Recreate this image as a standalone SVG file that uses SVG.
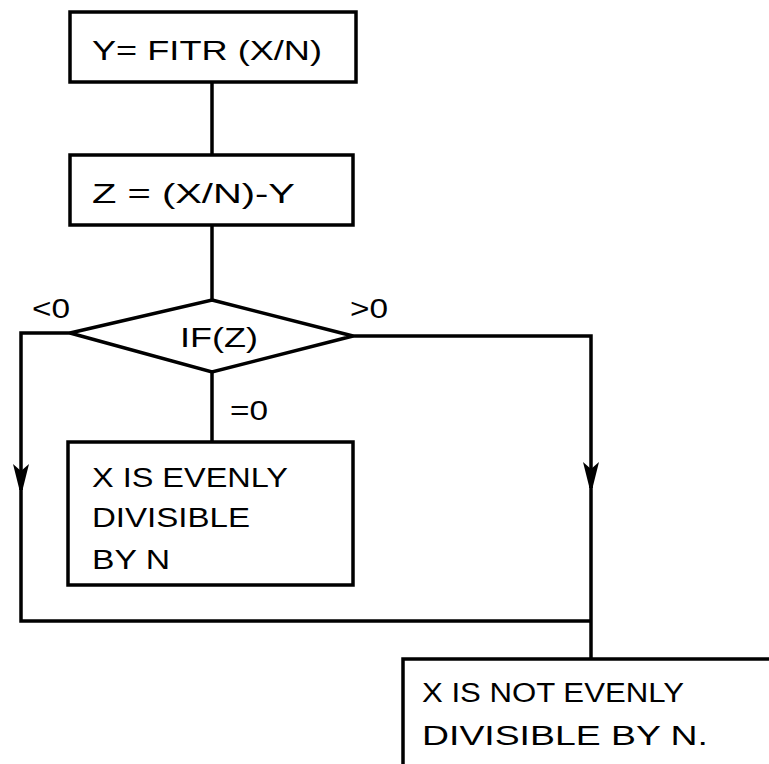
<svg xmlns="http://www.w3.org/2000/svg" width="769" height="764" viewBox="0 0 769 764">
<defs>
<style>
.box{fill:#fff;stroke:#000;stroke-width:3.5}
.ln{fill:none;stroke:#000;stroke-width:3.5}
.t{font-family:"Liberation Sans","DejaVu Sans",sans-serif;font-size:27px;fill:#000}
</style>
<marker id="arr" viewBox="0 0 26 16" refX="26" refY="8" markerWidth="26" markerHeight="16" markerUnits="userSpaceOnUse" orient="auto">
<path d="M0,0 L7,8 L0,16 L26,9.5 L26,6.5 Z" fill="#000"/>
</marker>
</defs>
<rect width="769" height="764" fill="#fff"/>
<g id="connectors">
<path class="ln" d="M212 82 V155"/>
<path class="ln" d="M212 225 V300"/>
<path class="ln" d="M212 372 V442"/>
<path class="ln" d="M70 333 H21 V490" marker-end="url(#arr)"/>
<path class="ln" d="M21 488 V621 H591"/>
<path class="ln" d="M353 336 H591 V488" marker-end="url(#arr)"/>
<path class="ln" d="M591 486 V659"/>
</g>
<g id="n1">
<rect class="box" x="70" y="12" width="286" height="70"/>
<text class="t" x="92" y="60" textLength="230" lengthAdjust="spacingAndGlyphs">Y= FITR (X/N)</text>
</g>
<g id="n2">
<rect class="box" x="70" y="155" width="283" height="70"/>
<text class="t" x="92" y="203" textLength="203" lengthAdjust="spacingAndGlyphs">Z = (X/N)-Y</text>
</g>
<g id="n3">
<polygon class="box" points="212,300 353,336 212,372 70,333"/>
<text class="t" x="180" y="347" textLength="78" lengthAdjust="spacingAndGlyphs">IF(Z)</text>
</g>
<g id="labels">
<text class="t" x="32" y="318" textLength="38" lengthAdjust="spacingAndGlyphs">&lt;0</text>
<text class="t" x="350" y="318" textLength="38" lengthAdjust="spacingAndGlyphs">&gt;0</text>
<text class="t" x="230" y="420" textLength="38" lengthAdjust="spacingAndGlyphs">=0</text>
</g>
<g id="n4">
<rect class="box" x="68" y="442" width="285" height="143"/>
<text class="t" x="92" y="487" textLength="196" lengthAdjust="spacingAndGlyphs">X IS EVENLY</text>
<text class="t" x="92" y="527" textLength="158" lengthAdjust="spacingAndGlyphs">DIVISIBLE</text>
<text class="t" x="92" y="569" textLength="78" lengthAdjust="spacingAndGlyphs">BY N</text>
</g>
<g id="n5">
<rect class="box" x="403" y="659" width="420" height="160"/>
<text class="t" x="422" y="702" textLength="262" lengthAdjust="spacingAndGlyphs">X IS NOT EVENLY</text>
<text class="t" x="422" y="745" textLength="286" lengthAdjust="spacingAndGlyphs">DIVISIBLE  BY N.</text>
</g>
</svg>
